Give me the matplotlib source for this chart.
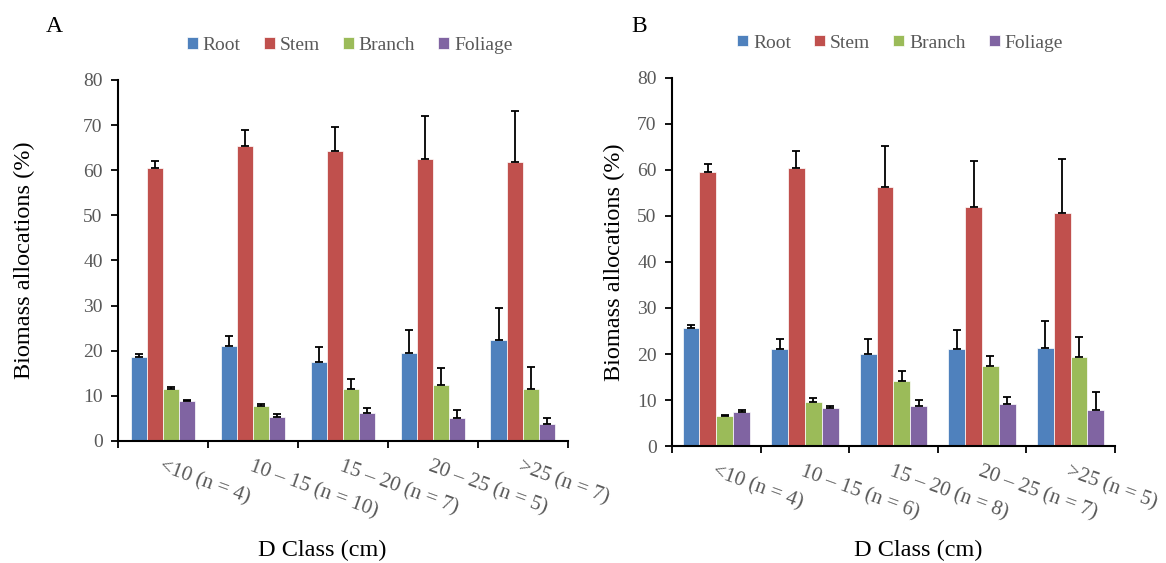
"""Biomass allocation by diameter class, two panels (A, B)."""

import matplotlib

matplotlib.use("Agg")
import matplotlib.pyplot as plt
import numpy as np

plt.rcParams["font.family"] = ["Liberation Serif", "DejaVu Serif"]

components = ["Root", "Stem", "Branch", "Foliage"]
colors = ["#4F81BD", "#C0504D", "#9BBB59", "#8064A2"]

# Panel A
labels_a = ["<10 (n = 4)", "10 – 15 (n = 10)", "15 – 20 (n = 7)",
            "20 – 25 (n = 5)", ">25 (n = 7)"]
root_a = [18.7, 21.0, 17.6, 19.6, 22.4]
stem_a = [60.5, 65.3, 64.3, 62.5, 61.9]
branch_a = [11.5, 7.7, 11.5, 12.5, 11.5]
foliage_a = [8.8, 5.4, 6.1, 5.0, 3.7]
root_a_err = [0.5, 2.2, 3.3, 5.0, 7.0]
stem_a_err = [1.6, 3.6, 5.3, 9.5, 11.3]
branch_a_err = [0.5, 0.5, 2.3, 3.7, 4.9]
foliage_a_err = [0.2, 0.5, 1.2, 1.9, 1.5]

# Panel B
labels_b = ["<10 (n = 4)", "10 – 15 (n = 6)", "15 – 20 (n = 8)",
            "20 – 25 (n = 7)", ">25 (n = 5)"]
root_b = [25.6, 21.0, 20.0, 21.0, 21.3]
stem_b = [59.5, 60.4, 56.4, 51.9, 50.6]
branch_b = [6.5, 9.6, 14.1, 17.4, 19.3]
foliage_b = [7.5, 8.3, 8.6, 9.2, 7.9]
root_b_err = [0.8, 2.2, 3.2, 4.2, 5.9]
stem_b_err = [1.8, 3.8, 8.9, 10.1, 11.7]
branch_b_err = [0.2, 0.8, 2.3, 2.2, 4.5]
foliage_b_err = [0.3, 0.5, 1.5, 1.5, 3.8]

TICK_GRAY = "#595959"


def draw_panel(ax, labels, series, errors, width, ylab_x, xlab_xy):
    x = np.arange(len(labels))
    offsets = (np.arange(len(series)) - (len(series) - 1) / 2) * width
    for vals, errs, off, name, col in zip(series, errors, offsets, components, colors):
        ax.bar(x + off, vals, width, color=col, edgecolor="white",
               linewidth=0.5, label=name, zorder=2)
        ax.errorbar(x + off, vals, yerr=[np.zeros(len(errs)), errs], fmt="none",
                    ecolor="black", elinewidth=1.3, capsize=3, capthick=1.3,
                    zorder=3)

    ax.set_xlim(-0.5, len(labels) - 0.5)
    ax.set_ylim(0, 80)
    ax.set_yticks(np.arange(0, 81, 10))
    ax.set_xticks(np.arange(-0.5, len(labels), 1.0))
    ax.set_xticklabels([])
    ax.set_xticks(x, minor=True)
    ax.set_xticklabels(labels, minor=True, rotation=-20, ha="left", va="top",
                       rotation_mode="anchor", fontsize=15, color=TICK_GRAY)
    ax.tick_params(axis="x", which="minor", length=0, pad=12)
    ax.tick_params(axis="x", which="major", length=5, width=1.3, direction="out")
    ax.tick_params(axis="y", length=5, width=1.3, direction="out",
                   labelsize=14, labelcolor=TICK_GRAY, pad=6)

    for side in ("top", "right"):
        ax.spines[side].set_visible(False)
    for side in ("left", "bottom"):
        ax.spines[side].set_linewidth(1.5)

    ax.set_ylabel("Biomass allocations (%)", fontsize=17.5)
    ax.yaxis.set_label_coords(ylab_x, 0.5)
    ax.set_xlabel("D Class (cm)", fontsize=17.5)
    ax.xaxis.set_label_coords(*xlab_xy)
    ax.legend(loc="center", bbox_to_anchor=(0.515, 1.095), ncol=4,
              frameon=False, fontsize=14, handlelength=0.55, handleheight=0.55,
              handletextpad=0.25, columnspacing=1.2, labelcolor=TICK_GRAY)


fig = plt.figure(figsize=(11.66, 5.63), dpi=100)
ax_a = fig.add_axes([0.1012, 0.2167, 0.3858, 0.6413])
ax_b = fig.add_axes([0.5763, 0.2078, 0.3799, 0.6537])

draw_panel(ax_a, labels_a, [root_a, stem_a, branch_a, foliage_a],
           [root_a_err, stem_a_err, branch_a_err, foliage_a_err], 0.18,
           -0.184, (0.453, -0.274))
draw_panel(ax_b, labels_b, [root_b, stem_b, branch_b, foliage_b],
           [root_b_err, stem_b_err, branch_b_err, foliage_b_err], 0.19,
           -0.106, (0.555, -0.255))

fig.text(46 / 1166, 1 - 27 / 563, "A", fontsize=17, ha="left", va="center")
fig.text(631 / 1166, 1 - 27 / 563, "B", fontsize=17, ha="left", va="center")

fig.savefig("out.png", dpi=100)
plt.close(fig)
